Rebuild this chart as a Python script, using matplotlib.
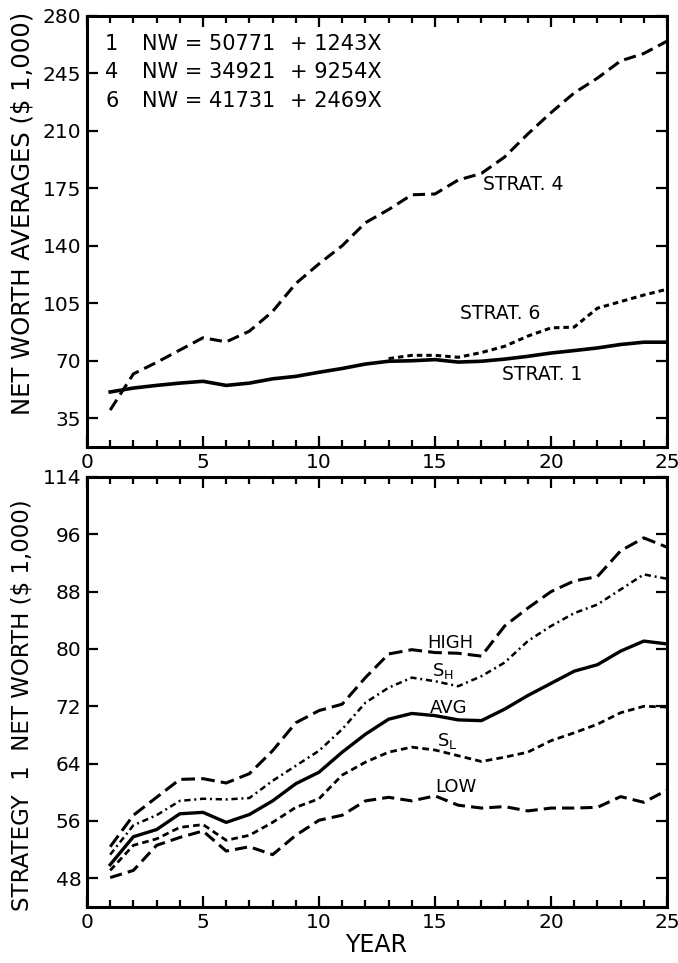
import matplotlib
matplotlib.use('Agg')
import matplotlib.pyplot as plt
from matplotlib.ticker import MultipleLocator

plt.rcParams['font.family'] = ['DejaVu Sans']

# ---- top panel: net worth averages ($1,000) ----
years = list(range(1, 26))
strat4 = [40, 62, 69, 76.5, 84, 81.5, 88, 100, 117, 129, 140, 154, 162, 171, 171.5,
          180, 184, 194, 208, 221, 233, 242, 252.5, 257, 264.5]
strat1 = [51, 53.4, 55, 56.4, 57.5, 55, 56.4, 59, 60.5, 63, 65.3, 68, 69.7, 70, 70.7,
          69.2, 69.7, 71, 72.7, 74.7, 76.2, 77.8, 79.9, 81.3, 81.3]
years6 = list(range(13, 26))
strat6 = [71.3, 73.3, 73.3, 72.1, 75, 78.8, 85, 90, 90.5, 102, 106, 110, 113.5]

top_yticks = [35, 70, 105, 140, 175, 210, 245, 280]
eq_strat = ['1', '4', '6']
eq_base = ['NW = 50771', 'NW = 34921', 'NW = 41731']
eq_slope = ['+ 1243X', '+ 9254X', '+ 2469X']

# ---- bottom panel: strategy 1 net worth ($1,000) ----
high = [52.4, 56.8, 59.3, 61.8, 61.9, 61.3, 62.6, 65.8, 69.7, 71.4, 72.3, 76, 79.3,
        79.9, 79.5, 79.4, 79.0, 83.2, 85.7, 88, 89.5, 90.1, 93.7, 95.5, 94.2]
s_high = [51.3, 55.4, 56.8, 58.8, 59.1, 59.0, 59.2, 61.6, 63.7, 65.8, 68.8, 72.5, 74.6,
          76.0, 75.5, 74.8, 76.2, 78.1, 81.1, 83.2, 85.0, 86.2, 88.3, 90.4, 89.8]
avg = [49.9, 53.8, 54.8, 57.0, 57.2, 55.8, 56.9, 58.8, 61.2, 62.8, 65.6, 68.1, 70.2,
       71.0, 70.7, 70.1, 70.0, 71.6, 73.5, 75.2, 76.9, 77.8, 79.7, 81.1, 80.7]
s_low = [49.1, 52.6, 53.5, 55.1, 55.5, 53.3, 54.0, 55.8, 57.9, 59.1, 62.4, 64.2, 65.6,
         66.3, 65.9, 65.1, 64.3, 64.9, 65.6, 67.2, 68.3, 69.5, 71.1, 72.0, 71.9]
low = [48.1, 49.1, 52.6, 53.7, 54.6, 51.8, 52.4, 51.3, 54.0, 56.1, 56.8, 58.8, 59.3,
       58.8, 59.5, 58.2, 57.8, 58.0, 57.4, 57.8, 57.8, 57.9, 59.4, 58.6, 60.3]

bot_yticks = [48, 56, 64, 72, 80, 88, 96, 104]
bot_ylabels = ['48', '56', '64', '72', '80', '88', '96', '114']

fig = plt.figure(figsize=(6.78, 9.63), dpi=100)
ax1 = fig.add_axes([0.1283, 0.5358, 0.8555, 0.4479])
ax2 = fig.add_axes([0.1283, 0.0582, 0.8555, 0.4465])


def style_axes(ax):
    ax.set_xlim(0, 25)
    ax.xaxis.set_major_locator(MultipleLocator(5))
    ax.xaxis.set_minor_locator(MultipleLocator(1))
    for s in ax.spines.values():
        s.set_linewidth(2.2)
    ax.tick_params(which='both', direction='in', top=True, right=True,
                   width=1.6, labelsize=14.5, pad=4)
    ax.tick_params(which='major', length=8)
    ax.tick_params(which='minor', length=5)


ax1.plot(years, strat4, color='black', lw=2.2, dashes=(4, 2))
ax1.plot(years, strat1, color='black', lw=2.6)
ax1.plot(years6, strat6, color='black', lw=2.2, dashes=(1.8, 1.3))
style_axes(ax1)
ax1.set_ylim(17.5, 280)
ax1.set_yticks(top_yticks)
for i in range(len(eq_strat)):
    yy = 262.7 - 17.2 * i
    ax1.text(0.78, yy, eq_strat[i], fontsize=15, va='center', ha='left')
    ax1.text(2.35, yy, eq_base[i], fontsize=15, va='center', ha='left')
    ax1.text(8.75, yy, eq_slope[i], fontsize=15, va='center', ha='left')
ax1.text(17.07, 177, 'STRAT. 4', fontsize=13.5, va='center')
ax1.text(16.08, 98.5, 'STRAT. 6', fontsize=13.5, va='center')
ax1.text(17.9, 61.7, 'STRAT. 1', fontsize=13.5, va='center')

ax2.plot(years, high, color='black', lw=2.2, dashes=(4.5, 2))
ax2.plot(years, s_high, color='black', lw=1.8, dashes=(2.5, 1.5, 0.8, 1.5))
ax2.plot(years, avg, color='black', lw=2.4)
ax2.plot(years, s_low, color='black', lw=2.0, dashes=(2.4, 1.5))
ax2.plot(years, low, color='black', lw=2.2, dashes=(4, 2))
style_axes(ax2)
ax2.set_ylim(44, 104)
ax2.set_yticks(bot_yticks)
ax2.set_yticklabels(bot_ylabels)
ax2.text(14.66, 80.8, 'HIGH', fontsize=13, va='center')
ax2.text(14.87, 76.9, r'S$_\mathregular{H}$', fontsize=13, va='center')
ax2.text(14.78, 71.8, 'AVG', fontsize=13, va='center')
ax2.text(15.1, 67.2, r'S$_\mathregular{L}$', fontsize=13, va='center')
ax2.text(15.0, 60.7, 'LOW', fontsize=13, va='center')

fig.text(0.033, 0.778, 'NET WORTH AVERAGES ($ 1,000)', rotation=90,
         fontsize=17.5, ha='center', va='center')
fig.text(0.033, 0.268, 'STRATEGY  1  NET WORTH ($ 1,000)', rotation=90,
         fontsize=16.5, ha='center', va='center')
fig.text(0.555, 0.019, 'YEAR', fontsize=17, ha='center', va='center')

fig.savefig('out.png', dpi=100)
